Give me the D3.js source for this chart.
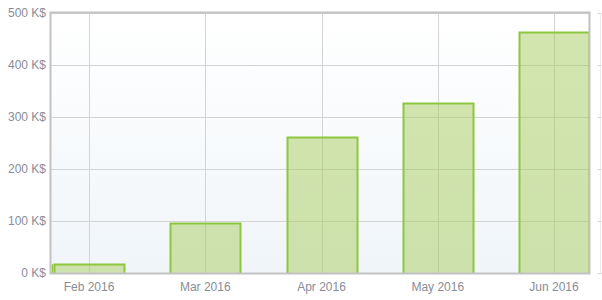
<!DOCTYPE html>
<html><head><meta charset="utf-8">
<script src="https://cdn.jsdelivr.net/npm/d3@7"></script>
<style>body{margin:0;background:#fff}svg{display:block}</style>
</head><body>
<svg id="c" width="602" height="300"></svg>
<script>
const months = ["Feb 2016","Mar 2016","Apr 2016","May 2016","Jun 2016"];
const values = [17, 97, 262, 326, 463];
const yTicks = [0,100,200,300,400,500];

const svg = d3.select("#c");
const L=51, R=589, T=13, B=273;
const y = d3.scaleLinear().domain([0,500]).range([B,T]);
const x = d3.scalePoint().domain(months).range([89,554]);
const bw = 70;

const defs = svg.append("defs");
const g = defs.append("linearGradient").attr("id","bg").attr("x1",0).attr("x2",0).attr("y1",0).attr("y2",1);
g.append("stop").attr("offset","0%").attr("stop-color","#ffffff");
g.append("stop").attr("offset","100%").attr("stop-color","#f0f5f9");
defs.append("clipPath").attr("id","clip").append("rect").attr("x",L).attr("y",T).attr("width",R-L).attr("height",B-T);

svg.append("rect").attr("x",L).attr("y",T).attr("width",R-L).attr("height",B-T).attr("fill","url(#bg)");

// grid
const grid = svg.append("g");
grid.selectAll("line.h").data(yTicks).join("line").attr("class","h")
  .attr("x1",L).attr("x2",R).attr("y1",d=>Math.round(y(d))+0.5).attr("y2",d=>Math.round(y(d))+0.5)
  .attr("stroke","#d4d4d4").attr("stroke-width",1);
grid.selectAll("line.v").data(months).join("line").attr("class","v")
  .attr("x1",d=>Math.round(x(d))+0.5).attr("x2",d=>Math.round(x(d))+0.5).attr("y1",T).attr("y2",B)
  .attr("stroke","#d4d4d4").attr("stroke-width",1);

// bars
const bars = svg.append("g").attr("clip-path","url(#clip)");
bars.selectAll("rect").data(months).join("rect")
  .attr("x",d=>Math.round(x(d)-bw/2)+0.5)
  .attr("y",(d,i)=>Math.round(y(values[i]))+0.5)
  .attr("width",bw)
  .attr("height",(d,i)=>B-Math.round(y(values[i]))+2)
  .attr("fill","rgba(165,202,88,0.48)")
  .attr("stroke","#8dc63f").attr("stroke-width",2);
// small stub near left edge
bars.append("line").attr("x1",52.5).attr("x2",52.5).attr("y1",y(values[0])).attr("y2",B)
  .attr("stroke","#8dc63f").attr("stroke-width",1.5);

// frame
svg.append("rect").attr("x",L-0.5).attr("y",T-0.5).attr("width",R-L+1).attr("height",B-T+1)
  .attr("fill","none").attr("stroke","#c2c2c2").attr("stroke-width",2);

// right faint axis
const rx = 600.5;
svg.append("line").attr("x1",rx).attr("x2",rx).attr("y1",T).attr("y2",B).attr("stroke","#ececec");
svg.selectAll("line.rt").data(yTicks).join("line").attr("class","rt")
  .attr("x1",rx-3).attr("x2",rx+1).attr("y1",d=>Math.round(y(d))+0.5).attr("y2",d=>Math.round(y(d))+0.5)
  .attr("stroke","#d8d8d8");

// labels
const font = "'Liberation Sans', Arial, sans-serif";
const txt = "#878d98";
svg.selectAll("text.y").data(yTicks).join("text").attr("class","y")
  .attr("x",46).attr("y",d=>y(d)+4).attr("text-anchor","end")
  .attr("font-family",font).attr("font-size",12).attr("fill",txt)
  .text(d=>d+" K$");
svg.selectAll("text.x").data(months).join("text").attr("class","x")
  .attr("x",d=>x(d)).attr("y",291).attr("text-anchor","middle")
  .attr("font-family",font).attr("font-size",12).attr("fill",txt)
  .text(d=>d);
</script>
</body></html>
